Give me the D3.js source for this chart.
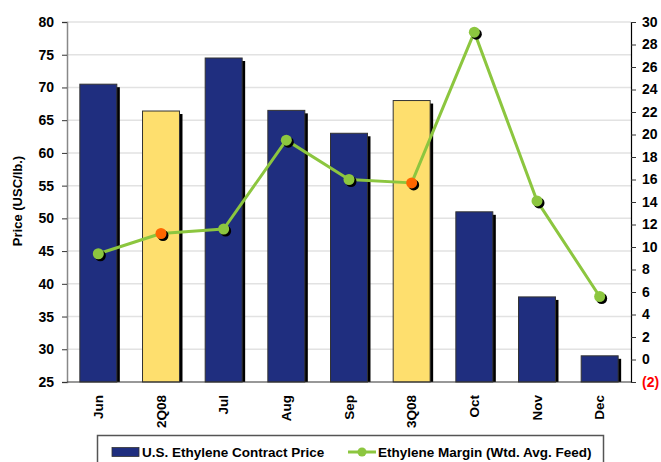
<!DOCTYPE html>
<html>
<head>
<meta charset="utf-8">
<script src="https://cdn.jsdelivr.net/npm/d3@7/dist/d3.min.js"></script>
<style>
  html, body { margin: 0; padding: 0; background: #fff; }
  svg { display: block; font-family: "Liberation Sans", Arial, sans-serif; font-weight: bold; }
</style>
</head>
<body>
<svg id="chart" width="661" height="462"></svg>
<script>
// Monthly and quarterly periods
const categories = ["Jun", "2Q08", "Jul", "Aug", "Sep", "3Q08", "Oct", "Nov", "Dec"];
// Quarter averages are drawn in yellow
const quarterly = ["2Q08", "3Q08"];
// U.S. ethylene contract price, USC/lb.
const contractPrice = [70.5, 66.4, 74.5, 66.5, 63, 68, 51, 38, 29];
// Ethylene margin (weighted average feed), USC/lb.
const margin = [9.4, 11.2, 11.6, 19.5, 16.0, 15.7, 29.1, 14.1, 5.6];
// Axis ticks
const leftTicks = [25, 30, 35, 40, 45, 50, 55, 60, 65, 70, 75, 80];
const rightTicks = [-2, 0, 2, 4, 6, 8, 10, 12, 14, 16, 18, 20, 22, 24, 26, 28, 30];

const svg = d3.select("#chart");
const m = { left: 67, right: 631, top: 22, bottom: 382 };
const font = "Liberation Sans, Arial, sans-serif";

const x = d3.scaleBand().domain(categories).range([m.left, m.right]).paddingInner(0.41).paddingOuter(0.205);
const yL = d3.scaleLinear().domain([25, 80]).range([m.bottom, m.top]);
const yR = d3.scaleLinear().domain([-2, 30]).range([m.bottom, m.top]);

const blue = "#1f2e7f", yellow = "#fedf6e", green = "#8cc63f", orange = "#ff6600";

// Horizontal gridlines
svg.append("g").selectAll("line").data(leftTicks.filter(d => d > 25)).join("line")
  .attr("x1", m.left).attr("x2", m.right)
  .attr("y1", d => yL(d)).attr("y2", d => yL(d))
  .attr("stroke", "#e2e2e2").attr("stroke-width", 1.5);

// Bars with drop shadows
const bars = svg.append("g");
const data = categories.map((c, i) => ({ c, v: contractPrice[i], q: quarterly.includes(c) }));
bars.selectAll("rect.shadow").data(data).join("rect").attr("class", "shadow")
  .attr("x", d => x(d.c) + 3).attr("y", d => yL(d.v) + 3)
  .attr("width", x.bandwidth()).attr("height", d => m.bottom - yL(d.v) - 3)
  .attr("fill", "#000");
bars.selectAll("rect.bar").data(data).join("rect").attr("class", "bar")
  .attr("x", d => x(d.c)).attr("y", d => yL(d.v))
  .attr("width", x.bandwidth()).attr("height", d => m.bottom - yL(d.v))
  .attr("fill", d => d.q ? yellow : blue)
  .attr("stroke", "#333").attr("stroke-width", 1);

// Left axis
const gL = svg.append("g").attr("transform", `translate(${m.left},0)`)
  .call(d3.axisLeft(yL).tickValues(leftTicks).tickSize(5).tickPadding(8));
gL.select(".domain").attr("stroke", "#888").attr("stroke-width", 1.5);
gL.selectAll(".tick line").attr("stroke", "#333");
gL.selectAll("text").attr("font-size", 14).attr("font-weight", "bold")
  .attr("font-family", font).attr("fill", "#000");

// Right axis
const gR = svg.append("g").attr("transform", `translate(${m.right},0)`)
  .call(d3.axisRight(yR).tickValues(rightTicks).tickSize(5).tickPadding(6)
    .tickFormat(d => d < 0 ? `(${-d})` : d));
gR.select(".domain").attr("stroke", "#000").attr("stroke-width", 1.2);
gR.selectAll(".tick line").attr("stroke", "#333");
gR.selectAll("text").attr("font-size", 14).attr("font-weight", "bold")
  .attr("font-family", font)
  .attr("fill", d => d < 0 ? "#ff0000" : "#000");

// Bottom axis
const gB = svg.append("g").attr("transform", `translate(0,${m.bottom})`)
  .call(d3.axisBottom(x).tickSize(0).tickPadding(0));
gB.select(".domain").attr("stroke", "#333").attr("stroke-width", 1.2)
  .attr("d", `M${m.left},0H${m.right}`);
gB.selectAll("text")
  .attr("font-size", 13.5).attr("font-weight", "bold")
  .attr("font-family", font).attr("fill", "#000")
  .attr("transform", "rotate(-90)")
  .attr("text-anchor", "end").attr("dx", "-13").attr("dy", "0.35em").attr("x", 0).attr("y", 0);

// Left axis title
svg.append("text")
  .attr("transform", `translate(22,201) rotate(-90)`)
  .attr("text-anchor", "middle").attr("font-size", 13).attr("font-weight", "bold")
  .text("Price (USC/lb.)");

// Margin line with markers
const pts = categories.map((c, i) => ({ c, v: margin[i], q: quarterly.includes(c) }));
const cx = d => x(d.c) + x.bandwidth() / 2;
svg.append("path").datum(pts)
  .attr("d", d3.line().x(cx).y(d => yR(d.v)))
  .attr("fill", "none").attr("stroke", green).attr("stroke-width", 3).attr("stroke-linejoin", "round");
svg.append("g").selectAll("circle").data(pts).join("circle")
  .attr("cx", d => cx(d) + 2).attr("cy", d => yR(d.v) + 2).attr("r", 5.5).attr("fill", "#000");
svg.append("g").selectAll("circle").data(pts).join("circle")
  .attr("cx", cx).attr("cy", d => yR(d.v)).attr("r", 5.5)
  .attr("fill", d => d.q ? orange : green);

// Legend
const lg = svg.append("g");
lg.append("rect").attr("x", 97.5).attr("y", 435.5).attr("width", 506).attr("height", 40)
  .attr("fill", "#fff").attr("stroke", "#555").attr("stroke-width", 1.5);
lg.append("rect").attr("x", 112).attr("y", 447.5).attr("width", 27).attr("height", 9)
  .attr("fill", blue).attr("stroke", "#333").attr("stroke-width", 0.8);
lg.append("text").attr("x", 142).attr("y", 457).attr("font-size", 13.5).text("U.S. Ethylene Contract Price");
lg.append("line").attr("x1", 348).attr("x2", 376).attr("y1", 452).attr("y2", 452)
  .attr("stroke", green).attr("stroke-width", 3);
lg.append("circle").attr("cx", 362).attr("cy", 452).attr("r", 4.5).attr("fill", green);
lg.append("text").attr("x", 378).attr("y", 457).attr("font-size", 13.5).text("Ethylene Margin (Wtd. Avg. Feed)");
</script>
</body>
</html>
